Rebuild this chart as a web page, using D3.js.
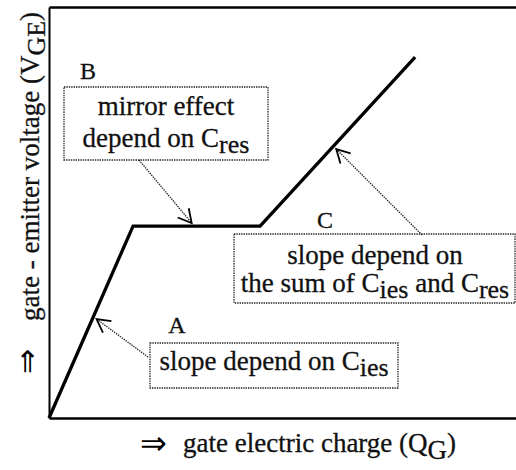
<!DOCTYPE html>
<html>
<head>
<meta charset="utf-8">
<script src="https://cdn.jsdelivr.net/npm/d3@7"></script>
<style>
  body { margin: 0; background: #fff; }
  text { font-family: "Liberation Serif", "Times New Roman", serif; fill: #111; stroke: #111; stroke-width: 0.3px; white-space: pre; }
  text.arrow { font-family: "DejaVu Sans", sans-serif; fill: #000; stroke: none; }
</style>
</head>
<body>
<div id="chart"></div>
<script>
// Gate charge curve (arbitrary units).
var qG = [0, 1.8, 4.52, 7.84];
var vGE = [0, 4.67, 4.67, 8.78];

// Region labels and where their arrows point on the curve (Q value).
var regions = ['A', 'B', 'C'];
var arrowQ = [0.95, 3.11, 6.09];

// Box texts: each line is [normal, sub, normal, sub, ...].
var boxText = [
  [['slope depend on C', 'ies']],
  [['mirror effect'], ['depend on C', 'res']],
  [['slope depend on'], ['the sum of C', 'ies', ' and C', 'res']]
];

var xTitle = ['gate electric charge (Q', 'G', ')'];
var yTitle = ['gate - emitter voltage (V', 'GE', ')'];

var width = 516, height = 470;
var margin = {top: 7, right: 0, bottom: 52, left: 49};

var svg = d3.select('#chart').append('svg')
    .attr('width', width)
    .attr('height', height);

var x = d3.scaleLinear().domain([0, 10]).range([margin.left, width - margin.right]);
var y = d3.scaleLinear().domain([0, 10]).range([height - margin.bottom, margin.top]);
var curve = d3.scaleLinear().domain(qG).range(vGE);

// Frame: bottom, top and left lines, no ticks.
svg.append('g')
    .attr('transform', 'translate(0,' + y(0) + ')')
    .call(d3.axisBottom(x).ticks(0).tickSizeOuter(0))
    .select('.domain').attr('stroke-width', 2.6);
svg.append('g')
    .attr('transform', 'translate(0,' + y(10) + ')')
    .call(d3.axisTop(x).ticks(0).tickSizeOuter(0))
    .select('.domain').attr('stroke-width', 2.6);
svg.append('g')
    .attr('transform', 'translate(' + x(0) + ',0)')
    .call(d3.axisLeft(y).ticks(0).tickSizeOuter(0))
    .select('.domain').attr('stroke-width', 2);

// The curve itself.
var line = d3.line()
    .x(function(d, i) { return x(qG[i]); })
    .y(function(d, i) { return y(vGE[i]); });
svg.append('path')
    .datum(qG)
    .attr('d', line)
    .attr('fill', 'none')
    .attr('stroke', '#000')
    .attr('stroke-width', 3.3)
    .attr('stroke-linejoin', 'miter');

// Layout of the annotation boxes (pixels).
var boxes = [
  {x0: 150, y0: 343, x1: 398, y1: 388, cx: 274, base: [370], tail: [148, 357], label: [177, 333]},
  {x0: 64, y0: 87, x1: 268, y1: 160, cx: 166, base: [115, 147], tail: [139, 160], label: [88, 79]},
  {x0: 234, y0: 234, x1: 515, y1: 303, cx: 375, base: [264, 292], tail: [422, 235], label: [325, 228]}
];

var dotted = '1.4 1';

boxes.forEach(function(b, i) {
  svg.append('rect')
      .attr('x', b.x0).attr('y', b.y0)
      .attr('width', b.x1 - b.x0).attr('height', b.y1 - b.y0)
      .attr('fill', 'none')
      .attr('stroke', '#222')
      .attr('stroke-width', 1.3)
      .attr('stroke-dasharray', dotted);

  boxText[i].forEach(function(segs, li) {
    var t = svg.append('text')
        .attr('x', b.cx)
        .attr('y', b.base[li])
        .attr('text-anchor', 'middle')
        .style('font-size', '27px');
    segs.forEach(function(s, si) {
      var sp = t.append('tspan').text(s);
      if (si % 2 === 1) sp.attr('dy', 6).style('font-size', '26px');
      else if (si > 0) sp.attr('dy', -6);
    });
  });

  svg.append('text')
      .attr('x', b.label[0])
      .attr('y', b.label[1])
      .attr('text-anchor', 'middle')
      .style('font-size', '24px')
      .text(regions[i]);

  // Dotted arrow from box to the curve, with an open solid head.
  var tx = x(arrowQ[i]), ty = y(curve(arrowQ[i]));
  var dx = tx - b.tail[0], dy = ty - b.tail[1];
  var len = Math.sqrt(dx * dx + dy * dy);
  var ux = dx / len, uy = dy / len;
  var gap = 4;
  var px = tx - ux * gap, py = ty - uy * gap;
  svg.append('line')
      .attr('x1', b.tail[0]).attr('y1', b.tail[1])
      .attr('x2', px).attr('y2', py)
      .attr('stroke', '#222')
      .attr('stroke-width', 1.3)
      .attr('stroke-dasharray', dotted);
  var ang = Math.atan2(-uy, -ux), head = 15, spread = Math.PI / 6.3;
  var hp = [ang - spread, ang + spread].map(function(a) {
    return [px + head * Math.cos(a), py + head * Math.sin(a)];
  });
  svg.append('path')
      .attr('d', 'M' + hp[0] + 'L' + px + ',' + py + 'L' + hp[1])
      .attr('fill', 'none')
      .attr('stroke', '#000')
      .attr('stroke-width', 1.8);
});

// Axis titles.
svg.append('text')
    .attr('class', 'arrow')
    .attr('x', 140).attr('y', 454)
    .style('font-size', '32px')
    .text('\u21D2');
var xt = svg.append('text')
    .attr('x', 183).attr('y', 452)
    .style('font-size', '27px');
xTitle.forEach(function(s, i) {
  var sp = xt.append('tspan').text(s);
  if (i % 2 === 1) sp.attr('dy', 7).style('font-size', '27px');
  else if (i > 0) sp.attr('dy', -7);
});

svg.append('text')
    .attr('class', 'arrow')
    .attr('transform', 'translate(37,374) rotate(-90)')
    .style('font-size', '30px')
    .text('\u21D2');
var yt = svg.append('text')
    .attr('transform', 'translate(39,321) rotate(-90)')
    .style('font-size', '27px');
yTitle.forEach(function(s, i) {
  var sp = yt.append('tspan').text(s);
  if (i % 2 === 1) sp.attr('dy', 6).style('font-size', '26px');
  else if (i > 0) sp.attr('dy', -6);
});
</script>
</body>
</html>
